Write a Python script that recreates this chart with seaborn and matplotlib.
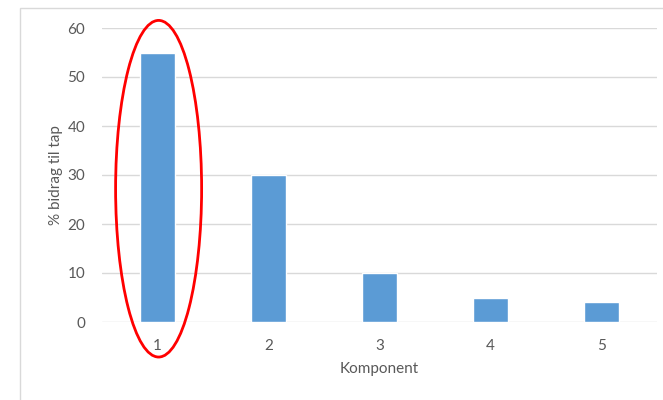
import matplotlib
matplotlib.use("Agg")
import matplotlib.pyplot as plt
from matplotlib.patches import Ellipse, Rectangle
import seaborn as sns
import pandas as pd

components = ["1", "2", "3", "4", "5"]
contribution = [55, 30, 10, 5, 4]
y_ticks = [0, 10, 20, 30, 40, 50, 60]

sns.set_theme(style="white")
plt.rcParams["font.family"] = ["Lato", "DejaVu Sans"]

df = pd.DataFrame({"Komponent": components, "bidrag": contribution})

fig = plt.figure(figsize=(6.63, 4.0), dpi=100)
ax = fig.add_axes([102 / 663, 78 / 400, 555 / 663, 294 / 400])

# chart frame
fig.patches.append(Rectangle((20 / 663, -0.1), 1.2, 1.08,
                             transform=fig.transFigure, fill=False,
                             edgecolor="#d9d9d9", linewidth=1.0, zorder=0))

sns.barplot(data=df, x="Komponent", y="bidrag", color="#5b9bd5",
            saturation=1, width=0.315, ax=ax, zorder=3)

ax.set_ylim(0, 60)
ax.set_xlim(-0.5, 4.5)
ax.set_yticks(y_ticks)
ax.yaxis.grid(True, color="#d9d9d9", linewidth=1.0)
ax.set_axisbelow(True)
for s in ax.spines.values():
    s.set_visible(False)

ax.tick_params(axis="both", length=0, labelsize=11, colors="#595959")
ax.tick_params(axis="y", pad=12)
ax.tick_params(axis="x", pad=12)
ax.set_xlabel("Komponent", fontsize=11, color="#595959", labelpad=7)
ax.set_ylabel("% bidrag til tap", fontsize=11, color="#595959", labelpad=3)

# highlight the largest contributor
ell = Ellipse((0.01, 27.2), 0.775, 68.7, fill=False, edgecolor="red",
              linewidth=2.0, clip_on=False, zorder=5)
ax.add_patch(ell)

fig.savefig("out.png", dpi=100, facecolor="white")
